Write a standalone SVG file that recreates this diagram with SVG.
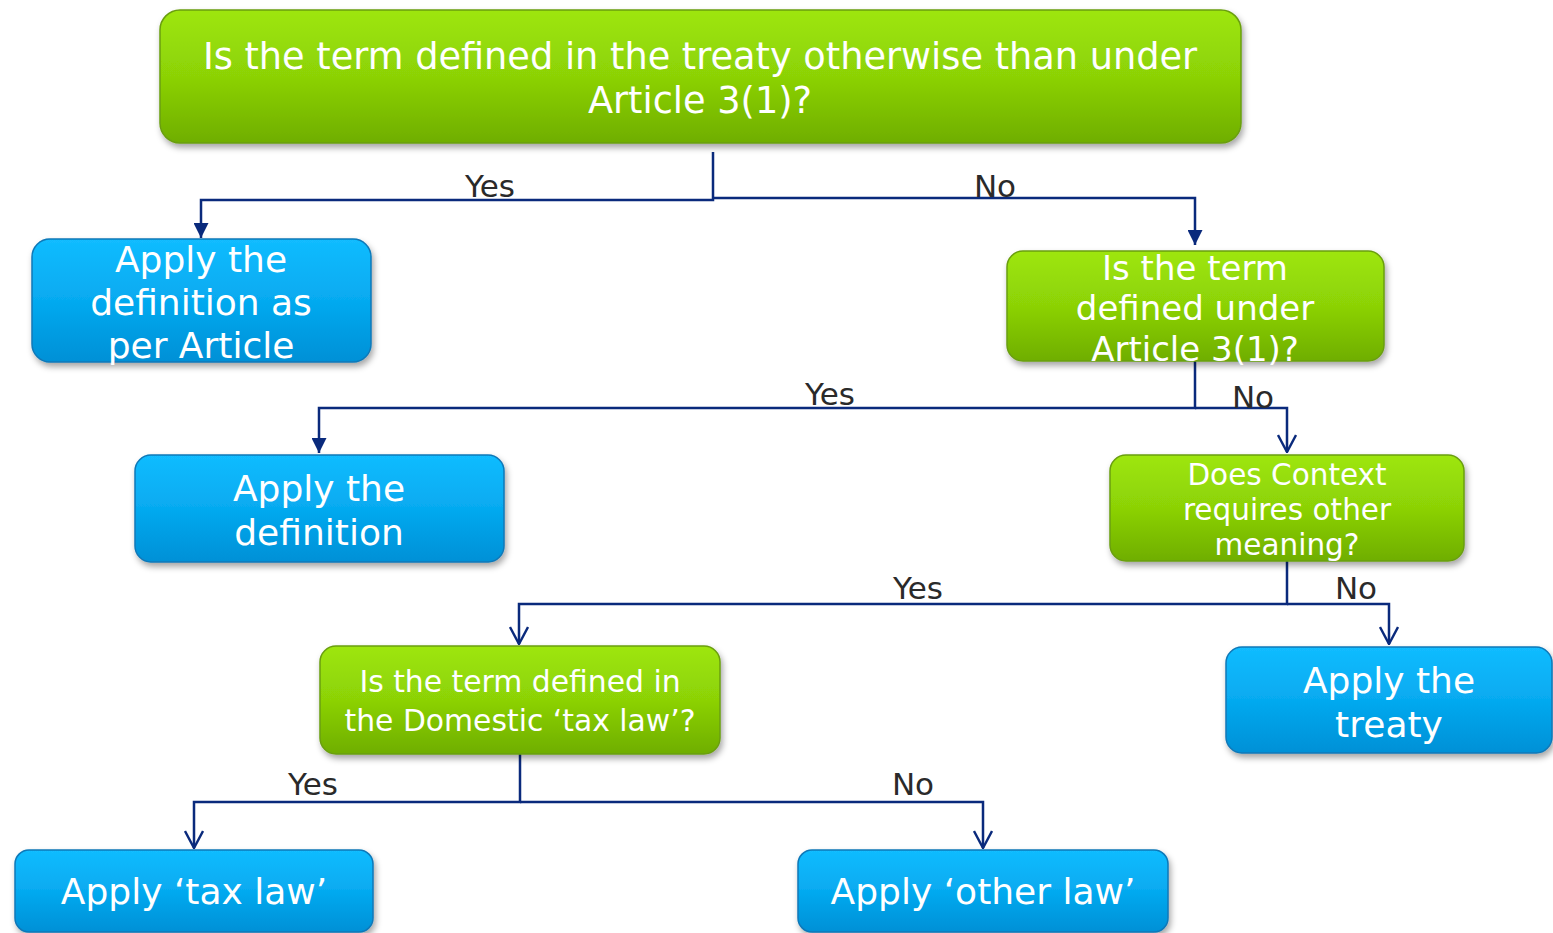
<svg xmlns="http://www.w3.org/2000/svg" width="1553" height="933" viewBox="0 0 1553 933">
<style>
.g{fill:url(#gg);stroke:#6a9e10;stroke-width:1.5;filter:url(#sh)}
.b{fill:url(#bg);stroke:#0a78b8;stroke-width:1.5;filter:url(#sh)}
.t{font-family:"DejaVu Sans",Verdana,sans-serif;fill:#fff;text-anchor:middle}
.l{font-family:"DejaVu Sans",Verdana,sans-serif;fill:#2a2a2a;font-size:31px;text-anchor:middle}
.c{fill:none;stroke:#0a2a7c;stroke-width:2.5}
</style>
<defs>
<linearGradient id="gg" x1="0" y1="0" x2="0" y2="1"><stop offset="0" stop-color="#9ee60a"/><stop offset="0.5" stop-color="#8cd206"/><stop offset="1" stop-color="#6fae05"/></linearGradient>
<linearGradient id="bg" x1="0" y1="0" x2="0" y2="1"><stop offset="0" stop-color="#12bcff"/><stop offset="0.5" stop-color="#06aaf0"/><stop offset="1" stop-color="#0690d6"/></linearGradient>
<filter id="sh" x="-10%" y="-10%" width="120%" height="130%"><feDropShadow dx="2" dy="4" stdDeviation="3" flood-color="#000" flood-opacity="0.35"/></filter>
<marker id="af" viewBox="0 0 15 15" refX="7.5" refY="15" markerWidth="15" markerHeight="15" markerUnits="userSpaceOnUse"><path d="M0,0 L15,0 L7.5,15 Z" fill="#0a2a7c"/></marker>
<marker id="ao" viewBox="0 0 20 19" refX="10" refY="18" markerWidth="20" markerHeight="19" markerUnits="userSpaceOnUse"><path d="M1,1 L10,18 L19,1" fill="none" stroke="#0a2a7c" stroke-width="2.4"/></marker>
</defs>
<g id="connectors">
<path class="c" d="M713,152 V200 H201 V238" marker-end="url(#af)"/>
<path class="c" d="M713,198 H1195 V245" marker-end="url(#af)"/>
<path class="c" d="M1195,361 V408 H319 V453" marker-end="url(#af)"/>
<path class="c" d="M1195,408 H1287 V452" marker-end="url(#ao)"/>
<path class="c" d="M1287,561 V604 H519 V644" marker-end="url(#ao)"/>
<path class="c" d="M1287,604 H1389 V644" marker-end="url(#ao)"/>
<path class="c" d="M520,754 V802 H194 V848" marker-end="url(#ao)"/>
<path class="c" d="M520,802 H983 V848" marker-end="url(#ao)"/>
<text class="l" x="490" y="197">Yes</text>
<text class="l" x="995" y="197">No</text>
<text class="l" x="830" y="405">Yes</text>
<text class="l" x="1253" y="408">No</text>
<text class="l" x="918" y="599">Yes</text>
<text class="l" x="1356" y="599">No</text>
<text class="l" x="313" y="795">Yes</text>
<text class="l" x="913" y="795">No</text>
</g>
<g id="n1"><rect class="g" x="160" y="10" width="1081" height="133" rx="20"/>
<text class="t" font-size="36.7"><tspan x="700" y="69">Is the term defined in the treaty otherwise than under</tspan><tspan x="700" y="113">Article 3(1)?</tspan></text></g>
<g id="n2"><rect class="b" x="32" y="239" width="339" height="123" rx="18"/>
<text class="t" font-size="36"><tspan x="201" y="272">Apply the</tspan><tspan x="201" y="315">definition as</tspan><tspan x="201" y="358">per Article</tspan></text></g>
<g id="n3"><rect class="g" x="1007" y="251" width="377" height="110" rx="16"/>
<text class="t" font-size="34"><tspan x="1195" y="280">Is the term</tspan><tspan x="1195" y="320">defined under</tspan><tspan x="1195" y="361">Article 3(1)?</tspan></text></g>
<g id="n4"><rect class="b" x="135" y="455" width="369" height="107" rx="16"/>
<text class="t" font-size="36"><tspan x="319" y="501">Apply the</tspan><tspan x="319" y="545">definition</tspan></text></g>
<g id="n5"><rect class="g" x="1110" y="455" width="354" height="106" rx="16"/>
<text class="t" font-size="29.5"><tspan x="1287" y="485">Does Context</tspan><tspan x="1287" y="520">requires other</tspan><tspan x="1287" y="555">meaning?</tspan></text></g>
<g id="n6"><rect class="b" x="1226" y="647" width="326" height="106" rx="16"/>
<text class="t" font-size="36"><tspan x="1389" y="693">Apply the</tspan><tspan x="1389" y="737">treaty</tspan></text></g>
<g id="n7"><rect class="g" x="320" y="646" width="400" height="108" rx="16"/>
<text class="t" font-size="29.8"><tspan x="520" y="692">Is the term defined in</tspan><tspan x="520" y="731">the Domestic ‘tax law’?</tspan></text></g>
<g id="n8"><rect class="b" x="15" y="850" width="358" height="82" rx="14"/>
<text class="t" font-size="36" x="194" y="904">Apply ‘tax law’</text></g>
<g id="n9"><rect class="b" x="798" y="850" width="370" height="82" rx="14"/>
<text class="t" font-size="36" x="983" y="904">Apply ‘other law’</text></g>
</svg>
